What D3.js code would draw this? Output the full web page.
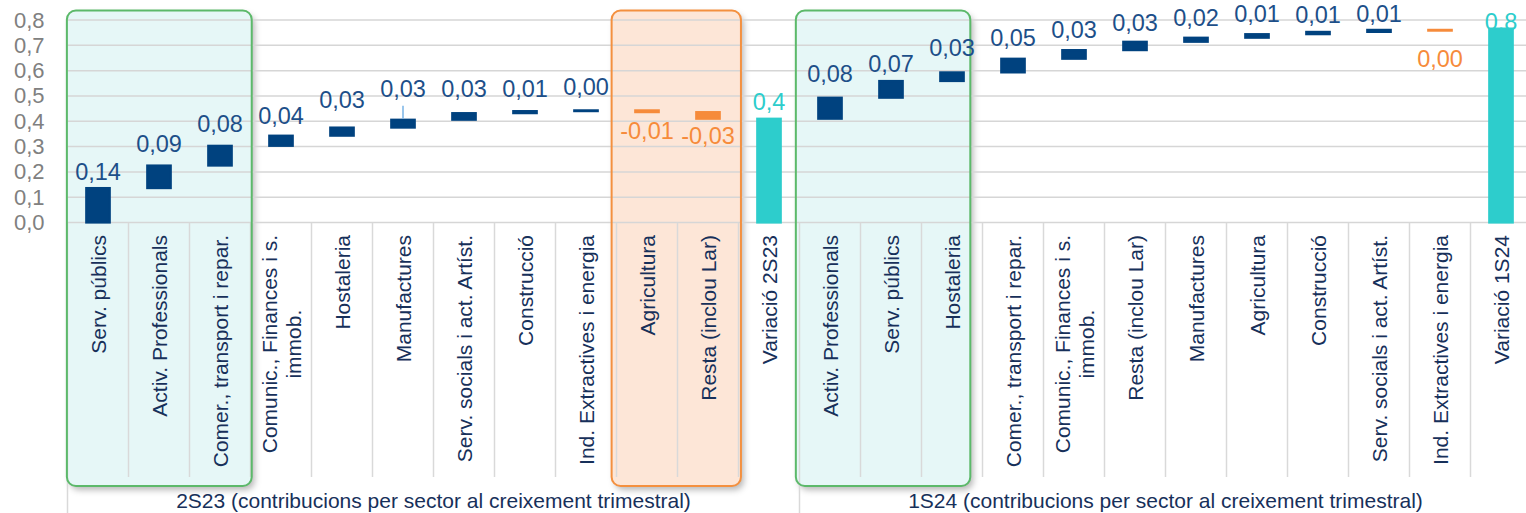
<!DOCTYPE html>
<html>
<head>
<meta charset="utf-8">
<script src="https://cdn.jsdelivr.net/npm/d3@7/dist/d3.min.js"></script>
<style>
  html, body { margin: 0; padding: 0; background: #ffffff; }
  svg { display: block; font-family: "Liberation Sans", Arial, sans-serif; }
</style>
</head>
<body>
<svg id="chart" width="1526" height="513"></svg>
<script>
// ---- Data -------------------------------------------------------------
const groupTitles = [
  "2S23 (contribucions per sector al creixement trimestral)",
  "1S24 (contribucions per sector al creixement trimestral)"
];

const sectors2S23 = [
  "Serv. públics", "Activ. Professionals", "Comer., transport i repar.",
  "Comunic., Finances i s.\nimmob.", "Hostaleria", "Manufactures",
  "Serv. socials i act. Artíst.", "Construcció", "Ind. Extractives i energia",
  "Agricultura", "Resta (inclou Lar)"
];
const values2S23 = [0.136, 0.089, 0.078, 0.040, 0.032, 0.031, 0.026, 0.008, 0.003, -0.007, -0.026];

const sectors1S24 = [
  "Activ. Professionals", "Serv. públics", "Hostaleria",
  "Comer., transport i repar.", "Comunic., Finances i s.\nimmob.",
  "Resta (inclou Lar)", "Manufactures", "Agricultura", "Construcció",
  "Serv. socials i act. Artíst.", "Ind. Extractives i energia"
];
const values1S24 = [0.083, 0.066, 0.034, 0.054, 0.034, 0.033, 0.016, 0.014, 0.009, 0.008, -0.003];

const totalNames = ["Variació 2S23", "Variació 1S24"];
const totalValues = [0.410, 0.766];

const yTicks = [0, 0.1, 0.2, 0.3, 0.4, 0.5, 0.6, 0.7, 0.8];

// ---- Styling / layout -------------------------------------------------
const W = 1526, H = 513;
const C = {
  pos: "#00427f", neg: "#f68b3b", total: "#2dcdcc",
  posLabel: "#1d4f89", negLabel: "#f68b3b", totalLabel: "#2dcdcc",
  grid: "#d6d6d6", sep: "#d9d9d9", axisText: "#808080", catText: "#17305a",
  greenStroke: "#5cb96a", greenFill: "#e6f7f7",
  orangeStroke: "#f4903f", orangeFill: "#fde6d7", leader: "#79b3e6"
};
// space (px) between a bar end and its value label
const labelGap2S23 = [7, 12.7, 13, 10.6, 18.2, 21.9, 15.4, 13.3, 14.3, 8.5, 6.9];
const labelGap1S24 = [14.9, 8.2, 15.3, 11.9, 11.3, 10, 10.9, 11.5, 7.5, 7.2, 18.3];
const totalLabelGap = [7.6, -2.5];
const leaderLines = [[0, 5]]; // [group, index] of labels linked to their bar

// highlighted category spans, in category units
const highlights = [
  { from: -0.01, to: 3.02, kind: "green" },
  { from: 8.92, to: 11.04, kind: "orange" },
  { from: 11.94, to: 14.8, kind: "green" }
];

// ---- Build waterfall rows --------------------------------------------
const sectorSets = [sectors2S23, sectors1S24];
const valueSets = [values2S23, values1S24];
const gapSets = [labelGap2S23, labelGap1S24];
const rows = [];
sectorSets.forEach((names, gi) => {
  let level = gi === 0 ? 0 : totalValues[gi - 1];
  names.forEach((name, i) => {
    const v = valueSets[gi][i];
    rows.push({ id: gi + "-" + i, gi, i, name, v, start: level, end: level + v,
                kind: v < 0 ? "neg" : "pos", gap: gapSets[gi][i] });
    level += v;
  });
  rows.push({ id: gi + "-t", gi, i: names.length, name: totalNames[gi], v: totalValues[gi],
              start: 0, end: totalValues[gi], kind: "total", gap: totalLabelGap[gi] });
});

// ---- Scales -----------------------------------------------------------
const plotLeft = 67.5, colW = 61;
const nCols = rows.length;
const x = d3.scaleBand().domain(rows.map(d => d.id))
  .range([plotLeft, plotLeft + nCols * colW]).padding(0);
const colPos = d3.scaleLinear().domain([0, nCols]).range([plotLeft, plotLeft + nCols * colW]);
const y = d3.scaleLinear().domain([0, 0.8]).range([222.5, 20]);

const locale = d3.formatLocale({ decimal: ",", thousands: ".", grouping: [3], currency: ["", "€"], minus: "-" });
const f2 = locale.format(".2f"), f1 = locale.format(".1f");

const svg = d3.select("#chart");
const defs = svg.append("defs");
const shadow = defs.append("filter").attr("id", "boxShadow")
  .attr("x", "-10%").attr("y", "-10%").attr("width", "130%").attr("height", "130%");
shadow.append("feDropShadow").attr("dx", 3).attr("dy", 4).attr("stdDeviation", 3)
  .attr("flood-color", "#000").attr("flood-opacity", 0.28);

// ---- Highlight boxes -------------------------------------------------
const boxTop = y(0.8) - 9.5, boxBottom = 486;
svg.append("g").selectAll("rect").data(highlights).join("rect")
  .attr("x", d => colPos(d.from)).attr("y", boxTop)
  .attr("width", d => colPos(d.to) - colPos(d.from)).attr("height", boxBottom - boxTop)
  .attr("rx", 9).attr("ry", 9)
  .attr("fill", d => d.kind === "green" ? C.greenFill : C.orangeFill)
  .attr("filter", "url(#boxShadow)");

// ---- Gridlines & y axis ----------------------------------------------
svg.append("g").selectAll("line").data(yTicks).join("line")
  .attr("x1", plotLeft).attr("x2", W)
  .attr("y1", d => y(d)).attr("y2", d => y(d))
  .attr("stroke", C.grid).attr("stroke-width", 1.5);

const yAxis = svg.append("g").attr("transform", `translate(${plotLeft},0)`)
  .call(d3.axisLeft(y).tickValues(yTicks).tickFormat(f1).tickSize(0).tickPadding(23));
yAxis.select(".domain").remove();
yAxis.selectAll("text").attr("fill", C.axisText).attr("font-size", 22)
  .attr("font-family", "'Liberation Sans', Arial, sans-serif");

// ---- Category separators ---------------------------------------------
const sepIdx = d3.range(0, nCols + 1);
svg.append("g").selectAll("line").data(sepIdx).join("line")
  .attr("x1", d => colPos(d)).attr("x2", d => colPos(d))
  .attr("y1", y(0)).attr("y2", d => (d % (nCols / 2) === 0) ? H : 477)
  .attr("stroke", C.sep).attr("stroke-width", 1.5);

// box outlines on top of the grid
svg.append("g").selectAll("rect").data(highlights).join("rect")
  .attr("x", d => colPos(d.from)).attr("y", boxTop)
  .attr("width", d => colPos(d.to) - colPos(d.from)).attr("height", boxBottom - boxTop)
  .attr("rx", 9).attr("ry", 9).attr("fill", "none")
  .attr("stroke", d => d.kind === "green" ? C.greenStroke : C.orangeStroke)
  .attr("stroke-width", 2);

// ---- Bars -------------------------------------------------------------
const barW = x.bandwidth() * 0.385, sw = 2.2;
const fillOf = d => d.kind === "neg" ? C.neg : d.kind === "total" ? C.total : C.pos;
svg.append("g").selectAll("rect").data(rows).join("rect")
  .attr("x", d => x(d.id) + (x.bandwidth() - barW) / 2)
  .attr("y", d => y(Math.max(d.start, d.end)))
  .attr("width", barW)
  .attr("height", d => Math.abs(y(d.start) - y(d.end)))
  .attr("fill", fillOf).attr("stroke", fillOf).attr("stroke-width", sw);

// ---- Value labels -----------------------------------------------------
const valFont = 23.5, capH = valFont * 0.716;
const labelY = d => d.kind === "neg"
  ? y(Math.min(d.start, d.end)) + sw / 2 + d.gap + capH
  : y(Math.max(d.start, d.end)) - sw / 2 - d.gap;
const cx = d => x(d.id) + x.bandwidth() / 2;

const leaderRows = rows.filter(d => leaderLines.some(([g, i]) => g === d.gi && i === d.i) && d.kind !== "total");
svg.append("g").selectAll("line").data(leaderRows).join("line")
  .attr("x1", cx).attr("x2", cx)
  .attr("y1", d => labelY(d) + 9)
  .attr("y2", d => y(Math.max(d.start, d.end)) - sw / 2)
  .attr("stroke", C.leader).attr("stroke-width", 1.5);

svg.append("g").selectAll("text").data(rows).join("text")
  .attr("x", cx).attr("y", labelY)
  .attr("text-anchor", "middle").attr("font-size", valFont)
  .attr("fill", d => d.kind === "neg" ? C.negLabel : d.kind === "total" ? C.totalLabel : C.posLabel)
  .text(d => d.kind === "total" ? f1(d.v) : f2(d.v));

// ---- Category labels (rotated, top-aligned) ---------------------------
const catFont = 21, lineH = 24, catTop = 235;
const catG = svg.append("g");
rows.forEach(d => {
  const lines = d.name.split("\n");
  const g = catG.append("g").attr("transform", `translate(${cx(d)},${catTop}) rotate(-90)`);
  const texts = lines.map((ln, k) => g.append("text")
    .attr("font-size", catFont).attr("fill", C.catText)
    .attr("text-anchor", "middle").attr("dominant-baseline", "central")
    .attr("y", (k - (lines.length - 1) / 2) * lineH).text(ln));
  const maxLen = d3.max(texts, t => t.node().getComputedTextLength());
  texts.forEach(t => t.attr("x", -maxLen / 2));
});

// ---- Group titles ------------------------------------------------------
svg.append("g").selectAll("text").data(groupTitles).join("text")
  .attr("x", (d, gi) => colPos(gi * nCols / 2 + nCols / 4))
  .attr("y", 508).attr("text-anchor", "middle")
  .attr("font-size", 21).attr("fill", C.catText).text(d => d);
</script>
</body>
</html>
